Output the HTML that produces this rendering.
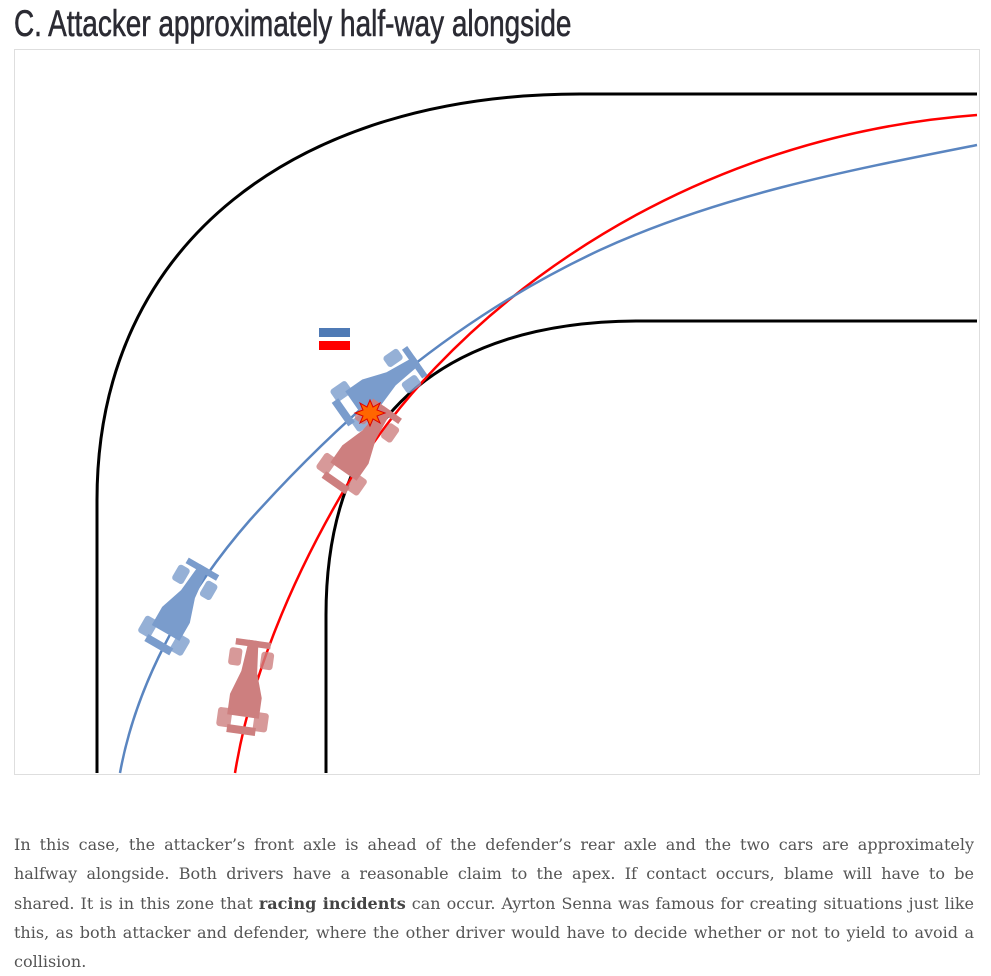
<!DOCTYPE html>
<html><head><meta charset="utf-8"><style>
body{margin:0;background:#fff;width:991px;height:975px;overflow:hidden;position:relative}
h1{position:absolute;left:14px;top:3px;margin:0;font:400 37px "Liberation Sans Narrow","Liberation Sans",sans-serif;color:#2b2b33;transform:scaleX(0.755);transform-origin:0 0;white-space:nowrap;-webkit-text-stroke:0.6px #2b2b33}
.box{position:absolute;left:14px;top:49px;width:964px;height:724px;border:1px solid #dedede}
.p{position:absolute;left:14px;top:830px;width:960px;margin:0;font:16px/29.3px "DejaVu Serif",serif;color:#555}
.p div{text-align:justify;text-align-last:justify;white-space:nowrap}
.p div.l{text-align-last:left}
b{color:#444}
</style></head><body>
<h1>C. Attacker approximately half-way alongside</h1>
<div class="box"></div>
<svg width="991" height="975" style="position:absolute;left:0;top:0">
<defs>
<g id="car">
<rect x="-11" y="-30" width="22" height="4" fill="currentColor"/>
<rect x="-14" y="-24" width="8" height="11" rx="2" fill="currentColor" opacity=".8"/>
<rect x="6" y="-24" width="8" height="11" rx="2" fill="currentColor" opacity=".8"/>
<path d="M-3,-30 L3,-30 L5,-10 L10,5 L10,18 L-10,18 L-10,5 L-5,-10Z" fill="currentColor"/>
<rect x="-16" y="14" width="9" height="12" rx="2" fill="currentColor" opacity=".8"/>
<rect x="7" y="14" width="9" height="12" rx="2" fill="currentColor" opacity=".8"/>
<rect x="-9" y="24" width="18" height="5" fill="currentColor"/>
</g>
</defs>
<g fill="none" stroke-width="3" stroke="#000">
<path d="M97,773 L97,500 C97,240 300,94 580,94 L977,94"/>
<path d="M326,773 L326,615 C326,420 440,321 640,321 L977,321"/>
</g>
<path d="M235,773 C250,680 290,580 350,480 C430,340 650,140 977,115" fill="none" stroke="#f00" stroke-width="2.5"/>
<path d="M120,773 C135,690 180,600 250,520 C340,420 450,320 600,250 C720,195 850,170 977,145" fill="none" stroke="#5a85c0" stroke-width="2.5"/>
<g color="#7a9ccc"><use href="#car" transform="translate(180,608) rotate(30) scale(1.6)"/></g>
<g color="#7a9ccc"><use href="#car" transform="translate(378,388) rotate(55) scale(1.6)"/></g>
<g color="#cd7f7f"><use href="#car" transform="translate(247,688) rotate(8) scale(1.6)"/></g>
<g color="#cd7f7f"><use href="#car" transform="translate(360,448) rotate(35) scale(1.6)"/></g>
<polygon points="370,400 373,407 380,403 377,410 385,413 377,416 380,423 373,419 370,426 367,419 360,423 363,416 355,413 363,410 360,403 367,407" fill="#f60" stroke="#d00" stroke-width="1"/>
<rect x="319" y="328" width="31" height="9" fill="#4f7ab5"/>
<rect x="319" y="341" width="31" height="9" fill="#f00"/>
</svg>
<div class="p">
<div>In this case, the attacker’s front axle is ahead of the defender’s rear axle and the two cars are approximately</div>
<div>halfway alongside. Both drivers have a reasonable claim to the apex. If contact occurs, blame will have to be</div>
<div>shared. It is in this zone that <b>racing incidents</b> can occur. Ayrton Senna was famous for creating situations just like</div>
<div>this, as both attacker and defender, where the other driver would have to decide whether or not to yield to avoid a</div>
<div class="l">collision.</div>
</div>
</body></html>
